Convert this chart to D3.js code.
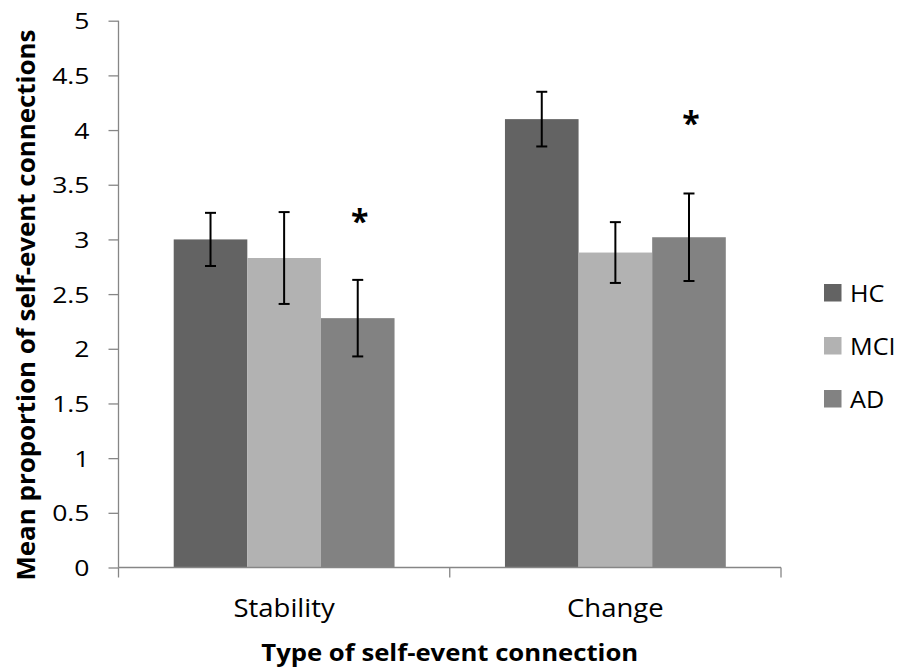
<!DOCTYPE html>
<html>
<head>
<meta charset="utf-8">
<script src="https://cdn.jsdelivr.net/npm/d3@7"></script>
<style>
  html, body { margin: 0; padding: 0; background: #fff; }
  svg { display: block; font-family: "Open Sans", "Noto Sans", sans-serif; }
</style>
</head>
<body>
<svg id="chart" width="902" height="667"></svg>
<script>
// Connection types along the x axis and the three participant groups
const categories = ["Stability", "Change"];
const groups = ["HC", "MCI", "AD"];

// Mean proportion per group, in category order
const hcValues  = [3.00, 4.10];
const mciValues = [2.83, 2.88];
const adValues  = [2.28, 3.02];

// Half-widths of the error bars, in category order
const hcErrors  = [0.243, 0.25];
const mciErrors = [0.42, 0.278];
const adErrors  = [0.35, 0.40];

// Significance markers: flagged group and the level the marker sits at
const markerGroups = ["AD", "AD"];
const markerLevels = [3.21, 4.11];

const yTicks = [0, 0.5, 1, 1.5, 2, 2.5, 3, 3.5, 4, 4.5, 5];

const groupColors = { HC: "#636363", MCI: "#b2b2b2", AD: "#828282" };
const valuesByGroup = { HC: hcValues, MCI: mciValues, AD: adValues };
const errorsByGroup = { HC: hcErrors, MCI: mciErrors, AD: adErrors };

const svg = d3.select("#chart");
const margin = { left: 118.5, right: 121, top: 20.7, bottom: 99.5 };
const W = 902, H = 667;
const axisGrey = "#868686";

const x = d3.scaleBand()
  .domain(categories)
  .range([margin.left, W - margin.right]);

// 150% gap between clusters: band = 3 bars + 1.5 bar widths
const barW = x.bandwidth() / 4.5;
const barOffset = barW * 0.75;
const xg = d3.scaleBand()
  .domain(groups)
  .range([0, barW * 3]);

const y = d3.scaleLinear()
  .domain([0, 5])
  .range([H - margin.bottom, margin.top]);

const rows = [];
categories.forEach((c, i) => {
  groups.forEach(g => {
    rows.push({ cat: c, group: g, value: valuesByGroup[g][i], err: errorsByGroup[g][i], idx: i });
  });
});
const barCenter = d => x(d.cat) + barOffset + xg(d.group) + xg.bandwidth() / 2;

// Bars
svg.append("g").selectAll("rect")
  .data(rows)
  .join("rect")
  .attr("x", d => x(d.cat) + barOffset + xg(d.group))
  .attr("y", d => y(d.value))
  .attr("width", xg.bandwidth())
  .attr("height", d => y(0) - y(d.value))
  .attr("fill", d => groupColors[d.group]);

// Y axis
const yAxis = svg.append("g")
  .attr("transform", `translate(${margin.left},0)`)
  .call(d3.axisLeft(y).tickValues(yTicks).tickSize(10).tickPadding(18).tickFormat(d3.format("~g")));
yAxis.selectAll("path, line").attr("stroke", axisGrey).attr("stroke-width", 1.3);
yAxis.select(".domain").attr("d", `M0,${y(0)}V${y(5)}`);
yAxis.selectAll("text")
  .attr("x", 0)
  .attr("transform", "translate(-29,0) scale(1.18,1)")
  .attr("font-size", 22.5)
  .attr("fill", "#000")
  .attr("dy", "0.36em")
  .style("font-family", "'Open Sans', sans-serif");

// X axis with ticks at the band boundaries
const xAxisG = svg.append("g").attr("transform", `translate(0,${y(0)})`);
xAxisG.append("line")
  .attr("x1", margin.left).attr("x2", W - margin.right)
  .attr("stroke", axisGrey).attr("stroke-width", 1.3);
const boundaries = [margin.left, ...categories.map(c => x(c) + x.bandwidth())];
xAxisG.selectAll("line.tick")
  .data(boundaries)
  .join("line")
  .attr("class", "tick")
  .attr("x1", d => d).attr("x2", d => d)
  .attr("y1", 0).attr("y2", 10)
  .attr("stroke", axisGrey).attr("stroke-width", 1.3);
xAxisG.selectAll("text.cat")
  .data(categories)
  .join("text")
  .attr("class", "cat")
  .attr("transform", d => `translate(${x(d) + x.bandwidth() / 2},49) scale(1.1,1)`)
  .attr("text-anchor", "middle")
  .attr("font-size", 25)
  .text(d => d);

// Error bars
const capHalf = 5.5;
const eb = svg.append("g").attr("stroke", "#000").attr("stroke-width", 2).attr("fill", "none");
rows.forEach(d => {
  const cx = barCenter(d);
  const yt = y(d.value + d.err), yb = y(d.value - d.err);
  eb.append("line").attr("x1", cx).attr("x2", cx).attr("y1", yt).attr("y2", yb);
  eb.append("line").attr("x1", cx - capHalf).attr("x2", cx + capHalf).attr("y1", yt).attr("y2", yt);
  eb.append("line").attr("x1", cx - capHalf).attr("x2", cx + capHalf).attr("y1", yb).attr("y2", yb);
});

// Significance markers
categories.forEach((c, i) => {
  const d = rows.find(r => r.cat === c && r.group === markerGroups[i]);
  svg.append("text")
    .attr("x", barCenter(d) + 2)
    .attr("y", y(markerLevels[i]) + 17)
    .attr("text-anchor", "middle")
    .attr("font-size", 32)
    .attr("font-weight", "bold")
    .text("*");
});

// Axis titles
svg.append("text")
  .attr("transform", `translate(35,${(y(0) + y(5)) / 2 + 11}) rotate(-90)`)
  .attr("text-anchor", "middle")
  .attr("font-size", 25)
  .attr("font-weight", "bold")
  .attr("textLength", 551)
  .attr("lengthAdjust", "spacingAndGlyphs")
  .text("Mean proportion of self-event connections");

svg.append("text")
  .attr("x", (margin.left + W - margin.right) / 2)
  .attr("y", 661)
  .attr("text-anchor", "middle")
  .attr("font-size", 24)
  .attr("font-weight", "bold")
  .attr("textLength", 377)
  .attr("lengthAdjust", "spacingAndGlyphs")
  .text("Type of self-event connection");

// Legend
const legend = svg.append("g").attr("transform", "translate(824,284)");
groups.forEach((g, i) => {
  const row = legend.append("g").attr("transform", `translate(0,${i * 53})`);
  row.append("rect").attr("width", 17.5).attr("height", 17.5).attr("fill", groupColors[g]);
  row.append("text")
    .attr("transform", "translate(26,17.5) scale(1.05,1)")
    .attr("font-size", 24)
    .text(g);
});
</script>
</body>
</html>
